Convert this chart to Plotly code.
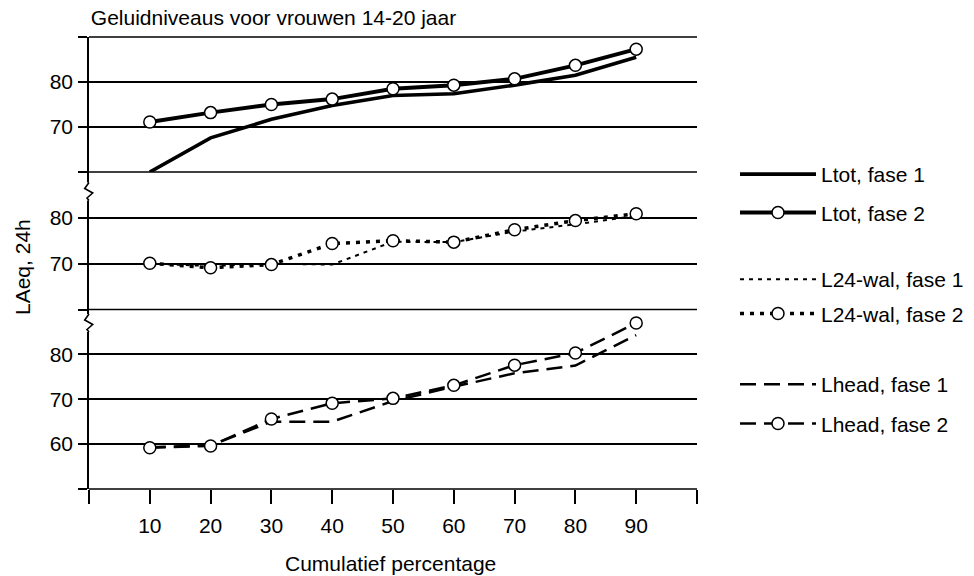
import plotly.graph_objects as go

# ---- data ----
pct = [10, 20, 30, 40, 50, 60, 70, 80, 90]
ltot_f1 = [60.0, 67.6, 71.7, 74.8, 77.0, 77.4, 79.3, 81.5, 85.5]
ltot_f2 = [71.1, 73.2, 75.0, 76.2, 78.5, 79.3, 80.7, 83.7, 87.3]
wal_f1 = [70.0, 69.5, 70.0, 69.8, 74.8, 74.7, 77.0, 78.6, 80.4]
wal_f2 = [70.1, 69.1, 69.8, 74.4, 75.0, 74.7, 77.4, 79.4, 80.9]
head_f1 = [59.3, 59.7, 65.0, 65.0, 69.6, 72.8, 75.8, 77.5, 84.3]
head_f2 = [59.2, 59.6, 65.6, 69.1, 70.2, 73.1, 77.6, 80.3, 87.0]

x_ticks = [0, 10, 20, 30, 40, 50, 60, 70, 80, 90, 100]
x_ticktext = ["", "10", "20", "30", "40", "50", "60", "70", "80", "90", ""]
top_ticks = [60, 70, 80, 90]
top_text = ["", "70", "80", ""]
mid_ticks = [60, 70, 80, 90]
mid_text = ["", "70", "80", ""]
bot_ticks = [50, 60, 70, 80, 90]
bot_text = ["", "60", "70", "80", ""]

FONT = "Liberation Sans, Arial, sans-serif"
FS = 21
marker_open = dict(symbol="circle", size=12, color="white", line=dict(color="black", width=1.5))

# panel domains (paper fractions)
DOM_TOP = [0.7013, 1.0]
DOM_MID = [0.3971, 0.7013]
DOM_BOT = [0.0, 0.3971]

fig = go.Figure()
# top panel
fig.add_trace(go.Scatter(x=pct, y=ltot_f1, mode="lines", name="Ltot, fase 1",
                         line=dict(color="black", width=3.6), xaxis="x", yaxis="y",
                         legend="legend", legendgroup="a"))
fig.add_trace(go.Scatter(x=pct, y=ltot_f2, mode="lines+markers", name="Ltot, fase 2",
                         line=dict(color="black", width=4), marker=marker_open,
                         xaxis="x", yaxis="y", legend="legend", legendgroup="b"))
# middle panel
fig.add_trace(go.Scatter(x=pct, y=wal_f1, mode="lines", name="L24-wal, fase 1",
                         line=dict(color="black", width=2, dash="4px,5px"),
                         xaxis="x", yaxis="y2", legend="legend2", legendgroup="c"))
fig.add_trace(go.Scatter(x=pct, y=wal_f2, mode="lines+markers", name="L24-wal, fase 2",
                         line=dict(color="black", width=3.5, dash="4px,6px"), marker=marker_open,
                         xaxis="x", yaxis="y2", legend="legend2", legendgroup="d"))
# bottom panel
fig.add_trace(go.Scatter(x=pct, y=head_f1, mode="lines", name="Lhead, fase 1",
                         line=dict(color="black", width=2.5, dash="16px,8px"),
                         xaxis="x", yaxis="y3", legend="legend3", legendgroup="e"))
fig.add_trace(go.Scatter(x=pct, y=head_f2, mode="lines+markers", name="Lhead, fase 2",
                         line=dict(color="black", width=2.5, dash="16px,8px"), marker=marker_open,
                         xaxis="x", yaxis="y3", legend="legend3", legendgroup="f"))

yax_common = dict(showgrid=True, gridcolor="black", gridwidth=1.6, zeroline=False,
                  showline=True, linecolor="black", linewidth=1.6,
                  ticks="outside", ticklen=9, tickwidth=1.6, tickcolor="black",
                  tickfont=dict(family=FONT, size=FS, color="black"),
                  ticklabelstandoff=1, tickmode="array", anchor="x")

leg_common = dict(font=dict(family=FONT, size=FS, color="black"), bgcolor="rgba(0,0,0,0)",
                  itemwidth=76, xref="container", yref="container",
                  xanchor="left", yanchor="top", itemclick=False)

def py(p):  # pixel y -> paper y
    return (489 - p) / 452

def px(p):  # pixel x -> paper x
    return (p - 89) / 608

def cx(p):  # pixel x -> container x
    return p / 974

def cy(p):  # pixel y -> container y
    return 1 - p / 576

shapes = []
# horizontal boundary lines of the three panels
for yb in (DOM_TOP[1], DOM_TOP[0], DOM_MID[0], DOM_BOT[0]):
    shapes.append(dict(type="line", xref="paper", yref="paper", x0=0, x1=1, y0=yb, y1=yb,
                       line=dict(color="black", width=1.6), layer="above"))
# axis break marks
for yc in (191.5, 323.0):
    shapes.append(dict(type="rect", xref="paper", yref="paper", xsizemode="pixel", ysizemode="pixel",
                       xanchor=0, yanchor=py(yc), x0=-4, x1=4, y0=-9, y1=9,
                       fillcolor="white", line=dict(width=0), layer="above"))
    shapes.append(dict(type="path", xref="paper", yref="paper", xsizemode="pixel", ysizemode="pixel",
                       xanchor=0, yanchor=py(yc), path="M0,9 L-4.3,3 L3.7,-1.5 L-2,-6.5 L0,-9",
                       line=dict(color="black", width=1.6), layer="above"))

fig.update_layout(
    width=974, height=576,
    margin=dict(l=89, r=277, t=37, b=87),
    paper_bgcolor="white", plot_bgcolor="white",
    font=dict(family=FONT, size=FS, color="black"),
    title=dict(text="Geluidniveaus voor vrouwen 14-20 jaar", xref="paper", x=0.003, xanchor="left",
               yref="container", y=1 - 17.7 / 576, yanchor="middle",
               font=dict(family=FONT, size=FS, color="black")),
    xaxis=dict(range=[0, 100], tickmode="array", tickvals=x_ticks, ticktext=x_ticktext,
               showgrid=False, zeroline=False, showline=False,
               ticks="outside", ticklen=14, tickwidth=1.6, tickcolor="black",
               tickfont=dict(family=FONT, size=FS, color="black"), ticklabelstandoff=4,
               anchor="y3"),
    yaxis=dict(domain=DOM_TOP, range=[60, 90], tickvals=top_ticks, ticktext=top_text, **yax_common),
    yaxis2=dict(domain=DOM_MID, range=[60, 90], tickvals=mid_ticks, ticktext=mid_text, **yax_common),
    yaxis3=dict(domain=DOM_BOT, range=[50, 90], tickvals=bot_ticks, ticktext=bot_text, **yax_common),
    legend=dict(x=cx(735), y=cy(154), tracegroupgap=8, **leg_common),
    legend2=dict(x=cx(735), y=cy(259), tracegroupgap=4, **leg_common),
    legend3=dict(x=cx(735), y=cy(364), tracegroupgap=9, **leg_common),
    shapes=shapes,
    annotations=[
        dict(text="LAeq, 24h", xref="paper", yref="paper", x=px(22), y=py(267), textangle=-90,
             showarrow=False, xanchor="center", yanchor="middle",
             font=dict(family=FONT, size=FS, color="black")),
        dict(text="Cumulatief percentage", xref="paper", yref="paper", x=px(390), y=py(563),
             showarrow=False, xanchor="center", yanchor="middle",
             font=dict(family=FONT, size=FS, color="black")),
    ],
)

fig.write_html("out.html")
